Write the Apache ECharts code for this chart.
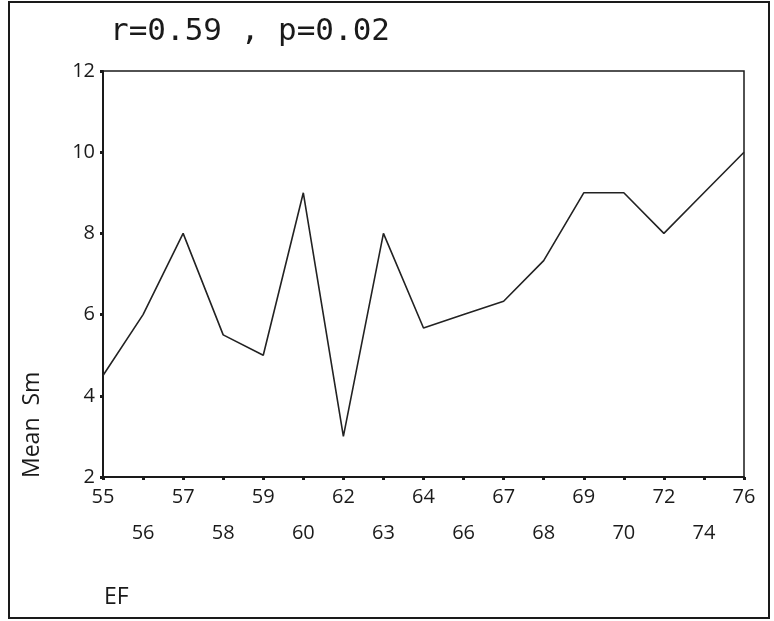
<!DOCTYPE html>
<html>
<head>
<meta charset="utf-8">
<script src="https://cdn.jsdelivr.net/npm/echarts@6/dist/echarts.min.js"></script>
<style>
html,body{margin:0;padding:0;background:#fff;}
#chart{width:774px;height:621px;}
</style>
</head>
<body>
<div id="chart"></div>
<script>
const categories = ['55','56','57','58','59','60','62','63','64','66','67','68','69','70','72','74','76'];
const meanSm = [4.5, 6, 8, 5.5, 5, 9, 3, 8, 5.67, 6, 6.33, 7.33, 9, 9, 8, 9, 10];
const yTicks = [2, 4, 6, 8, 10, 12];
const titleText = 'r=0.59 , p=0.02';
const yTitle = 'Mean  Sm';
const xTitle = 'EF';

const chart = echarts.init(document.getElementById('chart'), null, {renderer: 'canvas'});
const ink = '#1a1a1a';
const labelFont = 'Open Sans';
chart.setOption({
  animation: false,
  backgroundColor: '#ffffff',
  title: {
    text: titleText,
    left: 105, top: 11,
    textStyle: {fontFamily: 'DejaVu Sans Mono', fontSize: 31, fontWeight: 'normal', color: ink}
  },
  grid: {left: 103, right: 30, top: 71, bottom: 144, show: true, borderColor: ink, borderWidth: 1.5, backgroundColor: 'transparent'},
  xAxis: {
    type: 'category',
    data: categories,
    boundaryGap: false,
    axisLine: {lineStyle: {color: ink, width: 2}},
    axisTick: {show: true, alignWithLabel: true, length: 3, lineStyle: {color: ink, width: 3}},
    axisLabel: {
      interval: 0,
      margin: 2,
      fontFamily: labelFont, fontSize: 20, color: ink, lineHeight: 36,
      formatter: function (v, i) { return i % 2 ? '\n' + v : v; }
    },
    splitLine: {show: false}
  },
  yAxis: {
    type: 'value',
    min: yTicks[0], max: yTicks[yTicks.length - 1], interval: 2,
    axisLine: {show: true, lineStyle: {color: ink, width: 2}},
    axisTick: {show: true, length: 3, lineStyle: {color: ink, width: 3}},
    axisLabel: {margin: 8, fontFamily: labelFont, fontSize: 20, color: ink},
    splitLine: {show: false}
  },
  series: [{
    type: 'line',
    data: meanSm,
    symbol: 'none',
    lineStyle: {color: '#222', width: 1.6}
  }],
  graphic: [
    {type: 'rect', shape: {x: 9, y: 2, width: 760, height: 616}, style: {fill: 'none', stroke: ink, lineWidth: 2}, silent: true},
    {type: 'text', x: 32, y: 478, rotation: Math.PI / 2,
     style: {text: yTitle, fontFamily: labelFont, fontSize: 23, fill: ink, textAlign: 'left', textVerticalAlign: 'middle'}},
    {type: 'text', x: 104, y: 597,
     style: {text: xTitle, fontFamily: labelFont, fontSize: 23, fill: ink, textAlign: 'left', textVerticalAlign: 'middle'}}
  ]
});
</script>
</body>
</html>
